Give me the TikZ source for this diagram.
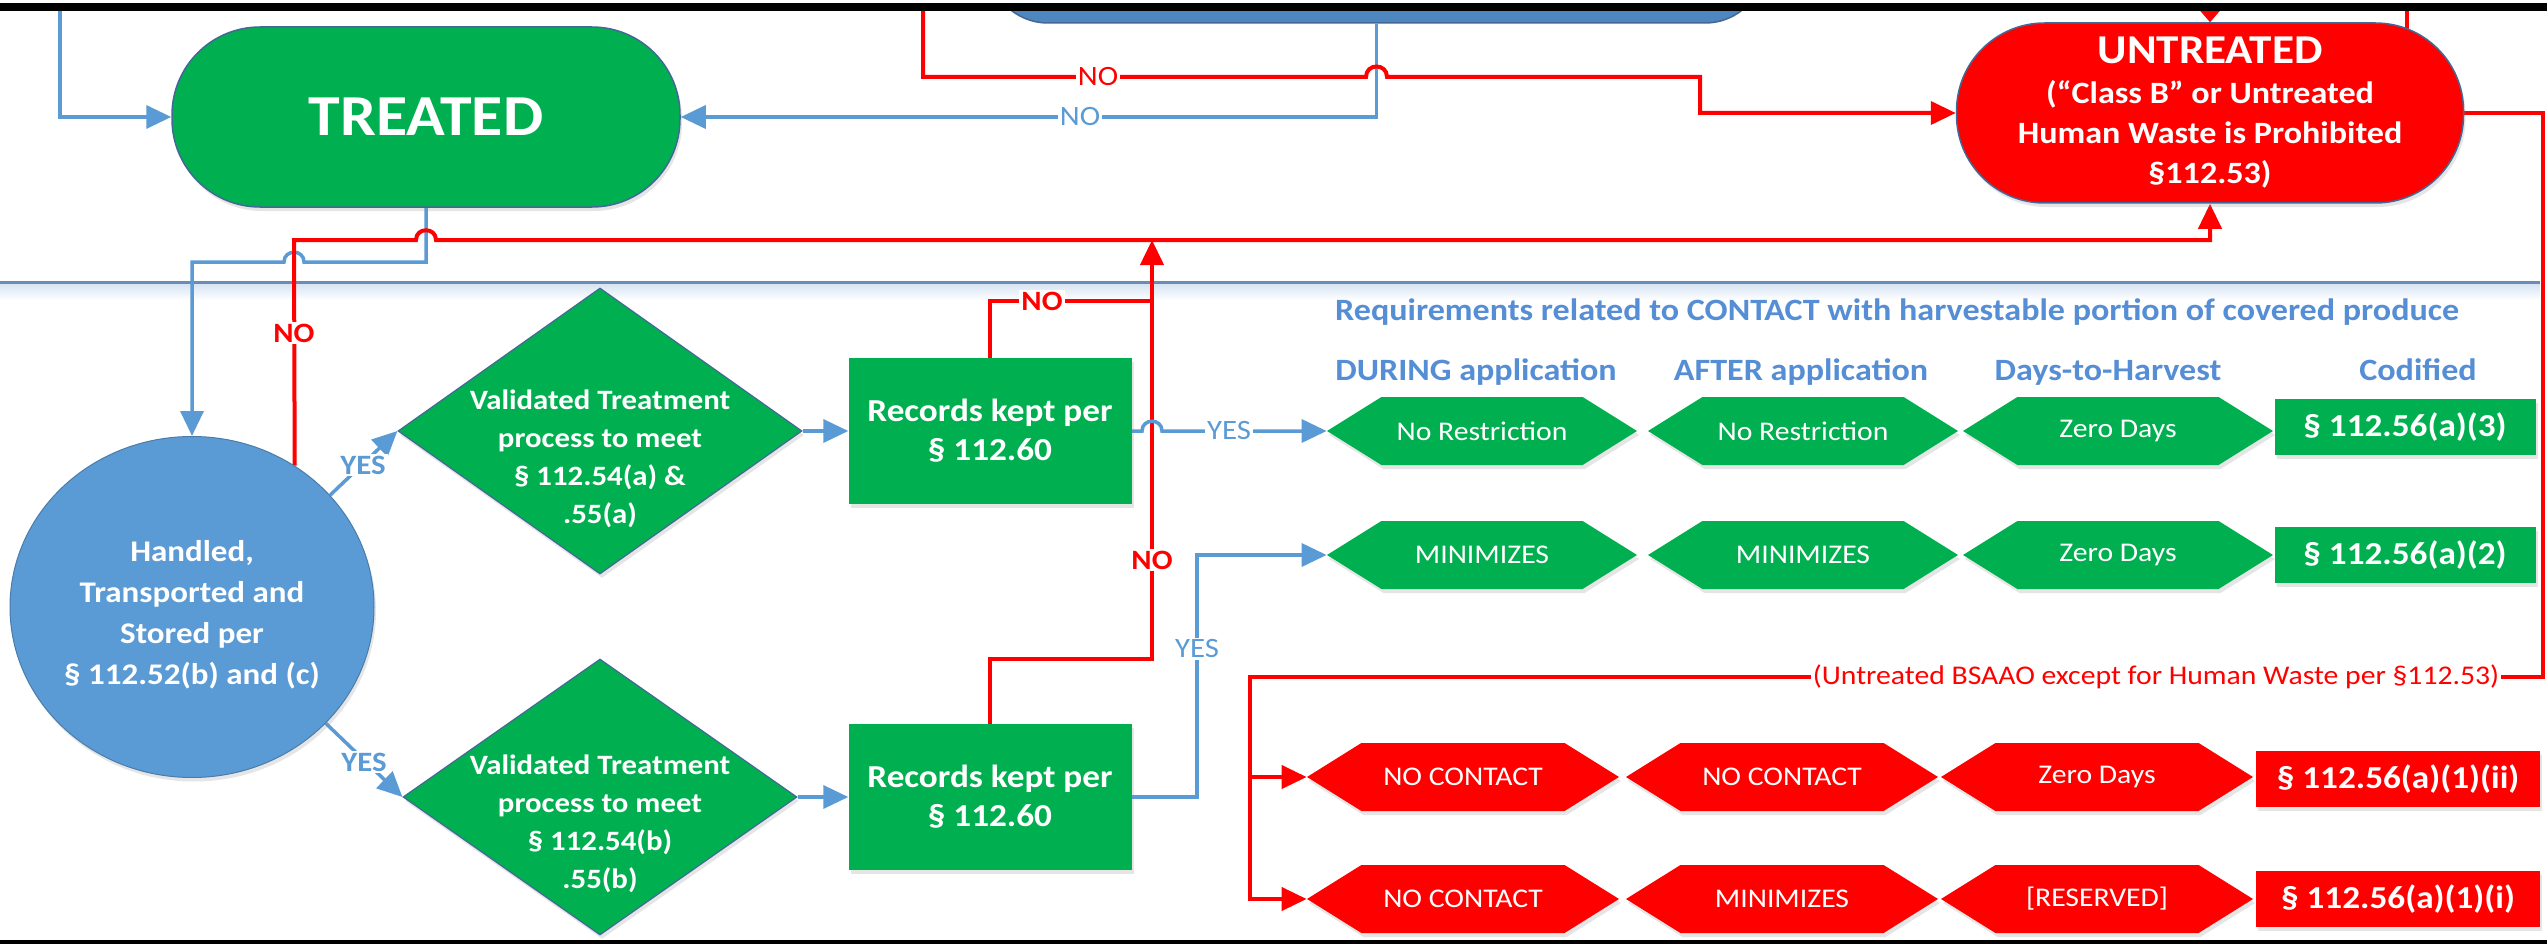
\documentclass[tikz,border=0pt]{standalone}
\usepackage{fontspec}
\setmainfont{Carlito}[FakeStretch=1.1]
\usetikzlibrary{shapes.geometric,shapes.symbols,arrows.meta,shadows}
\pgfdeclarelayer{bg}
\pgfsetlayers{bg,main}
\definecolor{ggreen}{RGB}{0,176,80}
\definecolor{rred}{RGB}{255,0,0}
\definecolor{lblue}{RGB}{91,155,213}
\definecolor{dblue}{RGB}{78,134,192}
\definecolor{bord}{RGB}{68,104,150}
\definecolor{hblue}{RGB}{85,142,213}
\definecolor{divc}{RGB}{108,140,180}
\definecolor{divsh}{RGB}{212,226,243}
\newcommand{\myfs}[2]{\fontsize{#1pt}{#2pt}\selectfont}
\tikzset{
  bline/.style={draw=lblue, line width=3.5pt},
  rline/.style={draw=rred, line width=4pt},
  arrowhd/.style={-{Triangle[length=25pt,width=23pt]}},
  shadowed/.style={drop shadow={shadow xshift=2pt,shadow yshift=-4pt,opacity=0.22,fill=black!45}},
  lbl/.style={fill=white, inner sep=2pt, font=\myfs{28}{28}},
  stadium/.style={draw=bord, line width=1.5pt, rounded corners=88pt, inner sep=0pt, text=white, align=center, shadowed},
  dtext/.style={align=center, text=white, inner sep=0pt, font=\myfs{28}{38}\bfseries},
  recbox/.style={fill=ggreen, minimum width=283pt, minimum height=146pt, inner sep=0pt, align=center, text=white, font=\myfs{32}{39}\bfseries, shadowed},
  hexbase/.style={signal, signal to=west and east, signal pointer angle=64, minimum height=68pt, inner sep=0pt, text=white, font=\myfs{27}{27}, shadowed},
  hexg/.style={hexbase, fill=ggreen, minimum width=310pt},
  hexr/.style={hexbase, fill=rred, minimum width=312pt},
  codg/.style={fill=ggreen, minimum width=261pt, minimum height=56pt, inner sep=0pt, text=white, font=\myfs{32}{32}\bfseries, shadowed},
  codr/.style={fill=rred, minimum width=284pt, minimum height=56pt, inner sep=0pt, text=white, font=\myfs{32}{32}\bfseries, shadowed},
  hdr/.style={text=hblue, inner sep=0pt, font=\myfs{31}{31}\bfseries},
}
\begin{document}
\begin{tikzpicture}[x=1pt,y=-1pt]
\useasboundingbox (0,0) rectangle (2547,944);
\clip (0,0) rectangle (2547,944);
\begin{pgfonlayer}{bg}
\fill[white] (0,0) rectangle (2547,944);
% divider with soft shadow
\shade[top color=divsh, bottom color=white] (0,283) rectangle (2540,300);
\draw[divc, line width=3pt] (0,282) -- (2540,282);
\end{pgfonlayer}

% main nodes
\node[draw=bord, line width=1.5pt, fill=dblue, rounded corners=60pt, minimum width=777pt, minimum height=120pt, inner sep=0pt] (topnode) at (1376.5,-37) {};
\node[stadium, fill=ggreen, minimum width=508pt, minimum height=180pt, font=\myfs{58}{58}\bfseries] (treated) at (426,117) {TREATED};
\node[stadium, fill=rred, minimum width=507pt, minimum height=180pt, font=\myfs{31}{40}\bfseries] (untreated) at (2210,113)
  {{\myfs{41}{40}UNTREATED}\\(“Class B” or Untreated\\Human Waste is Prohibited\\§112.53)};

\node[ellipse, draw=lblue!80!black, line width=1pt, fill=lblue, minimum width=364pt, minimum height=341pt, inner sep=0pt, shadowed] (circ) at (192,607) {};
\node[dtext, font=\myfs{30}{41}\bfseries] (circt) at (192,615) {Handled,\\Transported and\\Stored per\\§ 112.52(b) and (c)};

\node[diamond, draw=bord, line width=1.2pt, fill=ggreen, minimum width=404pt, minimum height=286pt, inner sep=0pt, shadowed] (d1) at (600,431) {};
\node[dtext] (d1t) at (600,459) {Validated Treatment\\process to meet\\§ 112.54(a) \&\\.55(a)};
\node[diamond, draw=bord, line width=1.2pt, fill=ggreen, minimum width=394pt, minimum height=276pt, inner sep=0pt, shadowed] (d2) at (600,797) {};
\node[dtext] (d2t) at (600,824) {Validated Treatment\\process to meet\\§ 112.54(b)\\.55(b)};

\node[recbox] (rec1) at (990,431) {Records kept per\\§ 112.60};
\node[recbox] (rec2) at (990,797) {Records kept per\\§ 112.60};

% headers
\node[hdr, anchor=base west] (hmain) at (1335,320) {Requirements related to CONTACT with harvestable portion of covered produce};
\node[hdr, anchor=base] (hc1) at (1476,380) {DURING application};
\node[hdr, anchor=base] (hc2) at (1801,380) {AFTER application};
\node[hdr, anchor=base] (hc3) at (2108,380) {Days-to-Harvest};
\node[hdr, anchor=base] (hc4) at (2418,380) {Codified};

% requirement rows
\node[hexg] (g11) at (1482,431) {No Restriction};
\node[hexg] (g12) at (1803,431) {No Restriction};
\node[hexg] (g13) at (2118,431) {Zero Days};
\node[codg] (g14) at (2405,427) {§ 112.56(a)(3)};
\node[hexg] (g21) at (1482,555) {MINIMIZES};
\node[hexg] (g22) at (1803,555) {MINIMIZES};
\node[hexg] (g23) at (2118,555) {Zero Days};
\node[codg] (g24) at (2405,555) {§ 112.56(a)(2)};
\node[hexr] (r31) at (1463,777) {NO CONTACT};
\node[hexr] (r32) at (1782,777) {NO CONTACT};
\node[hexr] (r33) at (2097,777) {Zero Days};
\node[codr] (r34) at (2398,779) {§ 112.56(a)(1)(ii)};
\node[hexr] (r41) at (1463,899) {NO CONTACT};
\node[hexr] (r42) at (1782,899) {MINIMIZES};
\node[hexr] (r43) at (2097,899) {[RESERVED]};
\node[codr] (r44) at (2398,899) {§ 112.56(a)(1)(i)};

% connectors
\begin{pgfonlayer}{bg}
\coordinate (c1) at (60,11);
\draw[bline, arrowhd] (c1) |- (treated.west);
\draw[bline, arrowhd] (topnode.south) |- (treated.east);
\coordinate (c2) at (923,11);
\draw[rline, arrowhd] (c2) -- (923,77) -- (1366,77) .. controls (1366,63) and (1387,63) .. (1387,77) -- (1700,77) -- (1700,113) -- (untreated.west);
\coordinate (c3) at (2210,11);
\draw[rline, -{Triangle[length=12pt,width=20pt]}] (c3) -- (untreated.north);
\coordinate (c4) at (2407,11);
\coordinate (c4b) at (2407,38);
\draw[rline] (c4) -- (c4b);
\draw[rline, arrowhd] (untreated.east) -- (2543,113) -- (2543,677) -- (1250,677) -- (1250,899) -- (r41.west);
\coordinate (c5) at (1250,777);
\draw[rline, arrowhd] (c5) -- (r31.west);
\draw[bline, arrowhd] (treated.south) -- (426,262) -- (304,262) .. controls (304,249) and (284,249) .. (284,262) -- (192,262) -- (circ.north);
\draw[rline, arrowhd] (circ.54) -- (294,240) -- (416,240) .. controls (416,227) and (436,227) .. (436,240) -- (2210,240) -- (untreated.south);
\draw[bline, arrowhd] (circ.39) -- (d1.west);
\draw[bline, arrowhd] (circ.-41) -- (d2.west);
\draw[bline, arrowhd] (d1.east) -- (rec1.west);
\draw[bline, arrowhd] (d2.east) -- (rec2.west);
\draw[rline] (rec1.north) -- (990,301) -- (1152,301);
\draw[rline, arrowhd] (rec2.north) -- (990,659) -- (1152,659) -- (1152,240);
\draw[bline, arrowhd] (rec1.east) -- (1142,431) .. controls (1142,418) and (1162,418) .. (1162,431) -- (g11.west);
\draw[bline, arrowhd] (rec2.east) -- (1197,797) -- (1197,555) -- (g21.west);
\end{pgfonlayer}

% connector labels
\node[lbl, text=lblue] (noB) at (1080,117) {NO};
\node[lbl, text=rred] (noA) at (1098,77) {NO};
\node[lbl, text=rred, font=\myfs{28}{28}\bfseries] (noC) at (294,333) {NO};
\node[lbl, text=lblue, font=\myfs{28}{28}\bfseries] (yes1) at (363,465) {YES};
\node[lbl, text=lblue, font=\myfs{28}{28}\bfseries] (yes2) at (364,762) {YES};
\node[lbl, text=rred, font=\myfs{28}{28}\bfseries] (noD) at (1042,301) {NO};
\node[lbl, text=rred, font=\myfs{28}{28}\bfseries] (noE) at (1152,560) {NO};
\node[lbl, text=lblue] (yes3) at (1229,431) {YES};
\node[lbl, text=lblue] (yes4) at (1197,649) {YES};
\node[lbl, text=rred, font=\myfs{27}{27}] (untlbl) at (2156,677) {(Untreated BSAAO except for Human Waste per §112.53)};

% frame bars
\fill[white] (0,0) rectangle (2547,3);
\fill[black] (0,3) rectangle (2547,11);
\fill[black] (0,940) rectangle (2547,944);
\end{tikzpicture}
\end{document}
